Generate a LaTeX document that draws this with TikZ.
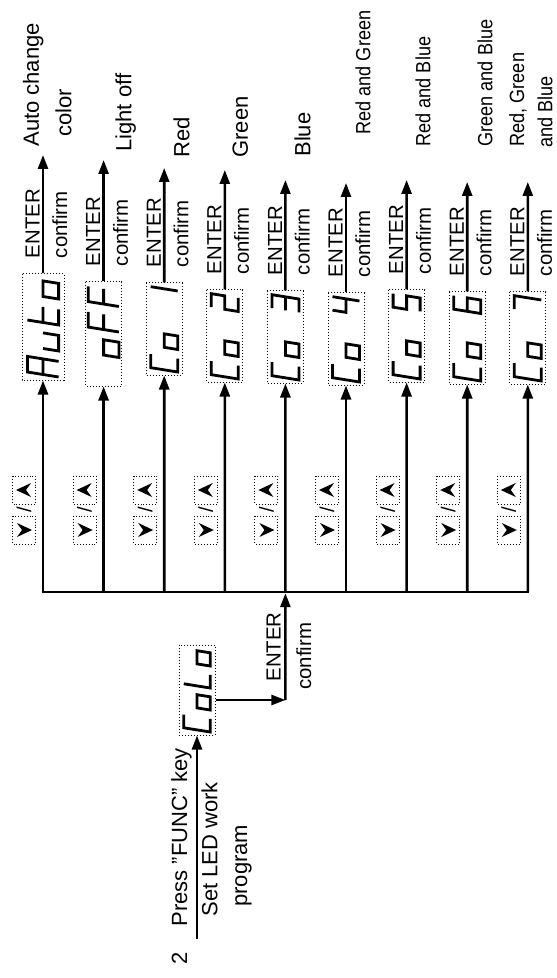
\documentclass[tikz,border=0pt]{standalone}
\usepackage{fontspec}
\setmainfont{Liberation Sans}
\newfontfamily\narrowfont[FakeStretch=0.88]{Liberation Sans}
\usetikzlibrary{arrows.meta, positioning, calc}

% seven segment glyphs, cell 1 wide and 2 high
\newcommand\defglyph[2]{\expandafter\def\csname sg#1\endcsname{#2}}
\defglyph{A}{(0,0)--(0,2)--(1,2)--(1,0) (0,1)--(1,1)}
\defglyph{u}{(0,1)--(0,0)--(1,0)--(1,1)}
\defglyph{t}{(0,2)--(0,0)--(1,0) (0,1)--(1,1)}
\defglyph{o}{(0,0)--(1,0)--(1,1)--(0,1)--cycle}
\defglyph{F}{(0,0)--(0,2)--(1,2) (0,1)--(1,1)}
\defglyph{C}{(1,2)--(0,2)--(0,0)--(1,0)}
\defglyph{L}{(0,2)--(0,0)--(1,0)}
\defglyph{x}{}
\defglyph{1}{(1,2)--(1,0)}
\defglyph{2}{(0,2)--(1,2)--(1,1)--(0,1)--(0,0)--(1,0)}
\defglyph{3}{(0,2)--(1,2)--(1,0)--(0,0) (0,1)--(1,1)}
\defglyph{4}{(0,2)--(0,1)--(1,1) (1,2)--(1,0)}
\defglyph{5}{(1,2)--(0,2)--(0,1)--(1,1)--(1,0)--(0,0)}
\defglyph{6}{(1,2)--(0,2)--(0,0)--(1,0)--(1,1)--(0,1)}
\defglyph{7}{(0,2)--(1,2)--(1,0)}

% #1 display node, #2 pitch, #3 glyphs from the bottom up
\newcommand\showdisp[3]{%
  \foreach \g [count=\i from 0] in {#3}
    \draw[segline, shift={(#1.west)}, rotate=90, shift={({3.5+\i*#2},{-0.6*#2})},
          xslant=0.16, scale={0.6*#2}] \csname sg\g\endcsname;}

\begin{document}
\begin{tikzpicture}[
    x=0.5pt, y=0.5pt,
    bus/.style={line width=1.3pt, line cap=rect},
    arr/.style={line width=1.3pt, -{Triangle[length=7pt, width=5pt]}},
    disp/.style={draw, densely dotted, line width=0.5pt, rotate=90, inner sep=0, minimum width=46pt, minimum height=18pt},
    keybox/.style={draw, densely dotted, line width=0.45pt, inner sep=0, minimum width=14pt, minimum height=11.5pt},
    segline/.style={line width=1.4pt, line join=miter},
    lbl/.style={rotate=90, inner sep=0, font=\fontsize{10.2}{12}\selectfont},
    txtbig/.style={lbl, font=\fontsize{11}{13}\selectfont},
    txtsmall/.style={lbl, font=\narrowfont\fontsize{10.3}{12}\selectfont},
    updown/.pic={
      \node[keybox] (-dn) at (-20,0) {};
      \fill (-20,-8) -- (-27,7) -- (-20,2) -- (-13,7) -- cycle;
      \node[inner sep=0, font=\fontsize{10}{12}\selectfont] (-sl) at (0,0) {/};
      \node[keybox] (-up) at (20,0) {};
      \fill (20,8) -- (13,-7) -- (20,-2) -- (27,-7) -- cycle;
    }
]
\useasboundingbox (0,0) rectangle (556,-978);

% Displays
\node[disp, minimum width=53pt, minimum height=21pt] (d0) at (43,-327) {};
\node[disp, minimum width=52pt] (d1) at (103.6,-334) {};
\node[disp] (d2) at (164.2,-329) {};
\node[disp] (d3) at (224.8,-336) {};
\node[disp] (d4) at (285.4,-337) {};
\node[disp] (d5) at (346,-339) {};
\node[disp] (d6) at (406.6,-336) {};
\node[disp] (d7) at (467.2,-338) {};
\node[disp] (d8) at (527.8,-338) {};
\showdisp{d0}{26}{A,u,t,o}
\showdisp{d1}{25.5}{x,o,F,F}
\showdisp{d2}{22.5}{C,o,x,1}
\showdisp{d3}{22.5}{C,o,x,2}
\showdisp{d4}{22.5}{C,o,x,3}
\showdisp{d5}{22.5}{C,o,x,4}
\showdisp{d6}{22.5}{C,o,x,5}
\showdisp{d7}{22.5}{C,o,x,6}
\showdisp{d8}{22.5}{C,o,x,7}

% Bus and branches
\foreach \i in {0,...,8}
  \coordinate (b\i) at ({43+60.6*\i},-592);
\draw[bus] (b0) -- (b8);
\foreach \i in {0,...,8}
  \draw[arr] (b\i) -- (d\i.west);
\foreach \i in {0,...,8}
  \pic[rotate=90, transform shape] (k\i) at ({24+60.6*\i},-510) {updown};

% ENTER confirm
\foreach \i/\ty in {0/155,1/160,2/168,3/170,4/180,5/183,6/180,7/182,8/182}
  \coordinate (t\i) at ({43+60.6*\i},-\ty);
\foreach \i in {0,...,8} {
  \draw[arr] (d\i.east) -- (t\i);
  \node[lbl, anchor=south west] (en\i) at ([shift={(-3,15)}]d\i.east) {ENTER};
  \node[lbl, anchor=north west] (cf\i) at ([shift={(9,15)}]d\i.east) {confirm};
}

% Results
\node[txtbig, anchor=base west] (r0a) at (39,-147) {Auto change};
\node[txtbig, anchor=north west] (r0b) at (55,-137) {color};
\node[txtbig, anchor=north west] (r1) at (115,-152) {Light off};
\node[txtbig, anchor=north west] (r2) at (173,-158) {Red};
\node[txtbig, anchor=north west] (r3) at (232,-158) {Green};
\node[txtbig, anchor=north west] (r4) at (294,-157) {Blue};
\node[txtsmall, anchor=north west] (r5) at (355,-135) {Red and Green};
\node[txtsmall, anchor=north west] (r6) at (415,-147) {Red and Blue};
\node[txtsmall, anchor=north west] (r7) at (477,-147) {Green and Blue};
\node[txtsmall, anchor=base west] (r8a) at (524,-147) {Red, Green};
\node[txtsmall, anchor=north west] (r8b) at (537,-148) {and Blue};

% Entry
\node[disp, minimum width=45pt] (dC) at (197,-690) {};
\showdisp{dC}{22}{C,o,L,o}
\coordinate (s0) at (197,-939);
\coordinate (c0) at (285.4,-700);
\draw[arr] (s0) -- (dC.west);
\draw[arr] ([yshift=-5pt]dC.south) -- (c0);
\draw[arr, shorten >=0.6pt] (c0) -- (b4);
\node[txtbig, anchor=base west] (num) at (187,-965) {2};
\node[txtbig, anchor=base west] (press) at (187,-927) {Press "FUNC" key};
\node[txtbig, anchor=north west] (set) at (201,-917) {Set LED work};
\node[txtbig, anchor=north west] (prog) at (235,-907) {program};
\node[lbl, anchor=south west] (enC) at (281,-682) {ENTER};
\node[lbl, anchor=north west] (cfC) at (296,-690) {confirm};
\end{tikzpicture}
\end{document}
